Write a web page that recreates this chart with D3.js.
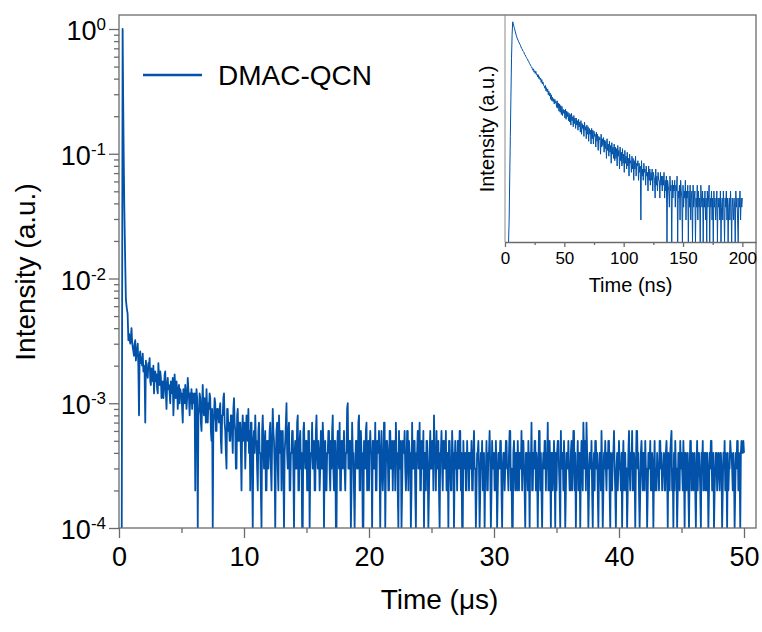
<!DOCTYPE html>
<html>
<head>
<meta charset="utf-8">
<script src="https://cdn.jsdelivr.net/npm/d3@7"></script>
<style>
  body { margin: 0; background: #fff; }
  svg text { font-family: "Liberation Sans", Arial, sans-serif; fill: #000; }
  .axis path, .axis line { stroke: #6b6b6b; stroke-width: 1.3; }
</style>
</head>
<body>
<div id="chart"></div>
<script>
// rise and first fast drop of the main decay (time in us, normalised intensity)
var riseTime = [0.22, 0.29, 0.33, 0.37, 0.42, 0.48, 0.55, 0.62, 0.69, 0.75]
var riseIntensity = [0.0001, 1.0, 0.3, 0.11, 0.04, 0.017, 0.0068, 0.0058, 0.0052, 0.0032]

// delayed tail: photon counts (1 count = 1e-4), one every 0.05 us from 0.8 us
var tailStart = 0.8, tailStep = 0.05
var tailCounts = [
  36, 33, 30, 34,
  40, 31, 28, 26, 24, 30, 32, 22, 25, 27, 30, 19, 8, 24, 26, 21, 23, 20, 25, 18,
  20, 17, 7, 22, 19, 18, 16, 21, 20, 23, 15, 14, 19, 17, 15, 20, 12, 16, 18, 15,
  17, 13, 12, 21, 16, 14, 18, 16, 11, 12, 15, 11, 13, 17, 18, 12, 9, 14, 16, 13,
  14, 12, 10, 15, 13, 12, 16, 8, 11, 17, 13, 11, 15, 13, 9, 12, 14, 10, 13, 12,
  12, 9, 7, 13, 11, 10, 14, 12, 9, 11, 16, 13, 11, 8, 12, 10, 13, 9, 12, 11,
  10, 12, 2, 9, 13, 11, 1, 8, 9, 12, 11, 7, 6, 10, 14, 9, 8, 11, 10, 7,
  13, 9, 7, 10, 9, 12, 11, 6, 5, 9, 1, 7, 8, 11, 10, 6, 6, 9, 9, 8,
  7, 9, 10, 5, 4, 8, 8, 11, 12, 7, 6, 4, 3, 9, 9, 6, 7, 5, 5, 8,
  8, 6, 4, 9, 11, 7, 6, 3, 3, 8, 9, 5, 5, 7, 7, 4, 2, 6, 8, 5,
  6, 7, 3, 5, 8, 6, 5, 9, 4, 6, 2, 7, 7, 3, 1, 5, 6, 4, 8, 5,
  5, 3, 2, 6, 7, 4, 4, 2, 1, 6, 8, 5, 3, 4, 6, 2, 2, 5, 5, 3,
  4, 6, 7, 3, 2, 5, 9, 6, 5, 3, 1, 4, 6, 7, 3, 2, 8, 5, 4, 6,
  2, 5, 6, 3, 1, 4, 5, 7, 10, 4, 3, 6, 7, 2, 2, 4, 4, 6, 6, 3,
  1, 4, 5, 3, 3, 7, 8, 2, 2, 5, 6, 3, 4, 1, 1, 6, 7, 4, 3, 5,
  5, 2, 2, 6, 6, 1, 3, 4, 4, 7, 3, 3, 5, 2, 2, 6, 8, 4, 3, 5,
  4, 2, 3, 6, 3, 3, 7, 5, 1, 4, 5, 2, 2, 4, 4, 6, 6, 3, 2, 5,
  3, 6, 8, 3, 2, 5, 5, 1, 1, 4, 6, 4, 3, 7, 2, 2, 5, 5, 3, 4,
  6, 3, 2, 4, 4, 9, 10, 3, 3, 5, 5, 1, 2, 7, 4, 4, 2, 1, 3, 5,
  5, 3, 3, 7, 8, 2, 2, 6, 4, 4, 1, 1, 5, 3, 3, 6, 7, 2, 4, 5,
  2, 4, 6, 4, 4, 1, 5, 5, 3, 3, 7, 2, 2, 5, 4, 4, 6, 3, 1, 4,
  6, 3, 2, 3, 7, 7, 1, 3, 5, 5, 4, 2, 2, 6, 6, 3, 3, 5, 2, 4,
  5, 5, 2, 7, 4, 4, 2, 1, 6, 3, 3, 5, 1, 2, 5, 4, 4, 6, 3, 2,
  3, 6, 6, 2, 5, 4, 4, 1, 2, 7, 3, 3, 5, 5, 2, 1, 4, 4, 6, 3,
  4, 7, 2, 2, 5, 3, 3, 6, 1, 4, 4, 2, 5, 5, 3, 1, 2, 4, 6, 3,
  3, 5, 5, 2, 8, 4, 4, 2, 6, 3, 3, 5, 2, 1, 4, 4, 6, 3, 2, 5,
  5, 3, 3, 6, 2, 2, 4, 1, 5, 5, 3, 2, 2, 6, 4, 4, 1, 3, 5, 3,
  4, 2, 5, 5, 3, 6, 6, 2, 4, 1, 1, 5, 3, 3, 4, 2, 2, 5, 3, 4,
  2, 4, 4, 3, 5, 2, 2, 4, 6, 3, 3, 1, 2, 4, 4, 5, 3, 1, 2, 4,
  3, 5, 2, 2, 4, 1, 3, 3, 5, 2, 2, 4, 4, 6, 3, 1, 2, 5, 3, 3,
  4, 2, 2, 5, 3, 1, 2, 4, 4, 3, 5, 5, 2, 1, 3, 4, 4, 2, 3, 5,
  5, 3, 3, 2, 4, 6, 6, 2, 3, 1, 1, 4, 5, 3, 2, 4, 4, 2, 5, 3,
  2, 4, 4, 3, 6, 2, 5, 5, 3, 2, 1, 4, 4, 3, 2, 5, 3, 1, 4, 3,
  7, 2, 2, 4, 3, 5, 5, 2, 4, 3, 1, 3, 6, 6, 2, 4, 2, 1, 3, 4,
  3, 5, 5, 2, 4, 3, 7, 2, 2, 5, 3, 1, 4, 4, 2, 3, 5, 3, 1, 4,
  2, 4, 5, 5, 3, 2, 1, 6, 3, 4, 4, 2, 5, 3, 1, 2, 4, 4, 3, 5,
  3, 2, 2, 4, 5, 2, 3, 6, 6, 2, 4, 1, 3, 3, 5, 2, 4, 4, 1, 3,
  5, 3, 2, 7, 4, 3, 5, 2, 7, 4, 3, 1, 2, 4, 4, 3, 5, 2, 1, 3,
  4, 2, 5, 5, 3, 4, 2, 1, 3, 4, 4, 2, 6, 3, 1, 2, 4, 3, 5, 3,
  2, 4, 3, 5, 5, 2, 1, 4, 3, 2, 4, 4, 6, 3, 2, 1, 3, 4, 2, 3,
  5, 3, 3, 2, 4, 1, 3, 5, 2, 4, 4, 2, 3, 1, 2, 4, 6, 3, 2, 4,
  3, 6, 2, 2, 4, 3, 1, 3, 6, 6, 3, 4, 2, 1, 2, 4, 5, 3, 2, 4,
  4, 2, 5, 3, 3, 1, 2, 4, 4, 3, 5, 2, 2, 4, 3, 1, 3, 5, 2, 3,
  2, 4, 3, 3, 2, 5, 5, 3, 4, 2, 3, 3, 4, 2, 2, 4, 5, 3, 1, 4,
  3, 2, 4, 5, 6, 2, 3, 1, 4, 2, 5, 3, 3, 1, 2, 4, 4, 2, 5, 3,
  4, 3, 2, 5, 3, 1, 4, 4, 2, 3, 4, 2, 1, 3, 5, 5, 2, 3, 4, 2,
  3, 4, 2, 1, 3, 5, 2, 4, 4, 3, 2, 1, 4, 3, 5, 2, 3, 4, 2, 4,
  2, 4, 3, 1, 2, 4, 3, 5, 5, 2, 3, 4, 1, 2, 3, 4, 4, 2, 3, 4,
  3, 2, 4, 4, 3, 1, 2, 4, 3, 5, 2, 4, 3, 1, 4, 2, 3, 3, 5, 4,
  4, 3, 2, 4, 3, 1, 2, 4, 3, 5, 5, 2, 4, 3, 1, 4, 5, 4, 4, 5,
  4
]

// inset: prompt decay, counts every 0.5 ns from 3 ns
var insetStart = 3, insetStep = 0.5
var insetCounts = [
  1, 2, 8, 28, 100, 330, 700, 1040, 972, 900, 845, 778, 730, 676, 640, 605, 585, 556, 532, 515,
  496, 470, 450, 440, 415, 408, 395, 372, 366, 348, 340, 326, 320, 302, 298, 282, 276, 264, 254, 250,
  238, 226, 236, 212, 222, 204, 218, 196, 200, 182, 196, 174, 184, 168, 176, 154, 168, 146, 156, 140,
  138, 128, 140, 118, 130, 114, 124, 104, 116, 100, 110, 90, 104, 86, 96, 84, 92, 78, 90, 80,
  84, 70, 86, 68, 80, 62, 78, 60, 74, 56, 72, 54, 66, 58, 64, 50, 66, 48, 62, 52,
  60, 46, 58, 44, 56, 40, 58, 46, 52, 38, 54, 42, 50, 36, 50, 40, 46, 34, 48, 38,
  44, 32, 46, 30, 42, 36, 40, 28, 44, 34, 38, 26, 40, 30, 38, 24, 36, 30, 34, 22,
  36, 26, 34, 22, 33, 28, 30, 20, 32, 24, 30, 18, 28, 25, 27, 16, 30, 20, 26, 21,
  27, 17, 25, 19, 24, 14, 26, 18, 22, 15, 24, 17, 21, 12, 23, 16, 20, 14, 22, 13,
  20, 14, 19, 11, 21, 15, 18, 10, 20, 13, 17, 11, 19, 12, 16, 9, 18, 12, 15, 10,
  17, 11, 14, 8, 16, 12, 13, 9, 15, 10, 14, 7, 13, 10, 15, 8, 12, 11, 13, 7,
  12, 9, 11, 2, 13, 8, 10, 7, 12, 9, 10, 6, 11, 8, 9, 5, 11, 7, 10, 6,
  9, 7, 10, 5, 9, 8, 7, 4, 10, 6, 8, 5, 9, 7, 7, 4, 9, 6, 8, 5,
  8, 6, 9, 4, 7, 5, 8, 1, 7, 6, 5, 3, 8, 5, 6, 1, 7, 4, 6, 5,
  7, 3, 6, 5, 8, 1, 5, 4, 6, 2, 7, 5, 4, 1, 6, 3, 5, 4, 7, 2,
  5, 4, 6, 1, 5, 3, 6, 2, 4, 5, 1, 6, 3, 4, 5, 1, 4, 3, 6, 2,
  5, 3, 4, 1, 6, 4, 3, 5, 1, 4, 3, 5, 2, 4, 1, 5, 3, 4, 6, 1,
  4, 3, 5, 2, 4, 1, 5, 3, 4, 2, 3, 5, 1, 4, 3, 4, 2, 5, 1, 3,
  4, 2, 5, 3, 1, 4, 3, 5, 2, 4, 1, 3, 4, 2, 5, 3, 1, 4, 3, 2,
  4, 3, 1, 5, 3, 4, 2, 1, 4, 3, 5, 2, 4, 3, 4
]

var mainXTicks = [0, 10, 20, 30, 40, 50]
var mainXMinor = [5, 15, 25, 35, 45]
var mainYTicks = [1e-4, 1e-3, 1e-2, 1e-1, 1]
var insetXTicks = [0, 50, 100, 150, 200]
var insetXMinor = [25, 75, 125, 175]
var seriesName = 'DMAC-QCN'

var lineColor = '#0152a8'
var svg_width = 762, svg_height = 632
var plot = { left: 119, right: 756, top: 15, bottom: 528 }
var inset = { left: 505, right: 756, top: 15, bottom: 242 }

var svg = d3.select('#chart').append('svg')
  .attr('width', svg_width)
  .attr('height', svg_height)

var mainData = riseTime.map((t, i) => ({ t: t, v: riseIntensity[i] }))
tailCounts.forEach((c, i) => mainData.push({ t: tailStart + i * tailStep, v: c * 1e-4 }))

var insetData = insetCounts.map((c, i) => ({ t: insetStart + i * insetStep, v: c }))

var xScale = d3.scaleLinear().domain([0, 50.96]).range([plot.left, plot.right])
var yScale = d3.scaleLog().domain([1e-4, 1.295]).range([plot.bottom, plot.top]).clamp(true)

// minor y ticks 2..9 per decade
var yMinor = []
mainYTicks.slice(0, -1).forEach(d => { for (var k = 2; k <= 9; k++) yMinor.push(d * k) })

svg.append('defs').append('clipPath').attr('id', 'clipMain')
  .append('rect')
  .attr('x', plot.left).attr('y', plot.top)
  .attr('width', plot.right - plot.left).attr('height', plot.bottom - plot.top)

// data
svg.append('path')
  .datum(mainData)
  .attr('clip-path', 'url(#clipMain)')
  .attr('fill', 'none')
  .attr('stroke', lineColor)
  .attr('stroke-width', 1.8)
  .attr('stroke-linejoin', 'round')
  .attr('d', d3.line().x(d => xScale(d.t)).y(d => yScale(d.v)))

// frame
svg.append('rect')
  .attr('x', plot.left).attr('y', plot.top)
  .attr('width', plot.right - plot.left).attr('height', plot.bottom - plot.top)
  .attr('fill', 'none').attr('stroke', '#6b6b6b').attr('stroke-width', 1.3)

// x axis
svg.append('g').classed('axis', true)
  .attr('transform', `translate(0, ${plot.bottom})`)
  .call(d3.axisBottom(xScale).tickValues(mainXMinor).tickSize(5).tickSizeOuter(0).tickFormat(''))
  .call(g => g.select('.domain').remove())

svg.append('g').classed('axis', true)
  .attr('transform', `translate(0, ${plot.bottom})`)
  .call(d3.axisBottom(xScale).tickValues(mainXTicks).tickSize(10).tickSizeOuter(0).tickPadding(9))
  .call(g => g.select('.domain').remove())
  .call(g => g.selectAll('text').attr('font-size', 27).attr('dy', '0.71em'))

// y axis
svg.append('g').classed('axis', true)
  .attr('transform', `translate(${plot.left}, 0)`)
  .call(d3.axisLeft(yScale).tickValues(yMinor).tickSize(5).tickSizeOuter(0).tickFormat(''))
  .call(g => g.select('.domain').remove())

svg.append('g').classed('axis', true)
  .attr('transform', `translate(${plot.left}, 0)`)
  .call(d3.axisLeft(yScale).tickValues(mainYTicks).tickSize(10).tickSizeOuter(0).tickFormat(''))
  .call(g => g.select('.domain').remove())

mainYTicks.forEach(d => {
  var txt = svg.append('text')
    .attr('x', 106)
    .attr('y', yScale(d) + 11)
    .attr('text-anchor', 'end')
    .attr('font-size', 27)
  txt.append('tspan').text('10')
  txt.append('tspan').attr('dy', -10).attr('font-size', 17).text(Math.round(Math.log10(d)))
})

// axis titles
svg.append('text')
  .attr('x', (plot.left + plot.right) / 2 + 2)
  .attr('y', 609)
  .attr('text-anchor', 'middle')
  .attr('font-size', 28)
  .text('Time (\u03bcs)')

svg.append('text')
  .attr('transform', 'translate(35, 272) rotate(-90)')
  .attr('text-anchor', 'middle')
  .attr('font-size', 28)
  .text('Intensity (a.u.)')

// legend
svg.append('line')
  .attr('x1', 143).attr('x2', 202).attr('y1', 75).attr('y2', 75)
  .attr('stroke', lineColor).attr('stroke-width', 2.5)
svg.append('text')
  .attr('x', 218).attr('y', 85)
  .attr('font-size', 28)
  .text(seriesName)

// inset
var ixScale = d3.scaleLinear().domain([0, 211.5]).range([inset.left, inset.right])
var iyScale = d3.scaleLog().domain([1, 1290]).range([inset.bottom, inset.top]).clamp(true)

svg.append('path')
  .datum(insetData)
  .attr('fill', 'none')
  .attr('stroke', lineColor)
  .attr('stroke-width', 1)
  .attr('stroke-linejoin', 'round')
  .attr('d', d3.line().x(d => ixScale(d.t)).y(d => iyScale(d.v)))

svg.append('line')
  .attr('x1', inset.left).attr('x2', inset.left)
  .attr('y1', inset.top).attr('y2', inset.bottom)
  .attr('stroke', '#8a8a8a').attr('stroke-width', 1)

svg.append('g').classed('axis', true)
  .attr('transform', `translate(0, ${inset.bottom})`)
  .call(d3.axisBottom(ixScale).tickValues(insetXMinor).tickSize(3).tickSizeOuter(0).tickFormat(''))
  .call(g => g.select('.domain').remove())
  .call(g => g.selectAll('line').attr('stroke', '#8a8a8a').attr('stroke-width', 1))

svg.append('g').classed('axis', true)
  .attr('transform', `translate(0, ${inset.bottom})`)
  .call(d3.axisBottom(ixScale).tickValues(insetXTicks).tickSize(5).tickSizeOuter(0).tickPadding(5))
  .call(g => g.select('.domain').attr('stroke', '#8a8a8a').attr('stroke-width', 1))
  .call(g => g.selectAll('line').attr('stroke', '#8a8a8a').attr('stroke-width', 1))
  .call(g => g.selectAll('text').attr('font-size', 17).attr('dy', '0.71em'))

svg.append('text')
  .attr('x', (inset.left + inset.right) / 2)
  .attr('y', 292)
  .attr('text-anchor', 'middle')
  .attr('font-size', 20)
  .text('Time (ns)')

svg.append('text')
  .attr('transform', 'translate(494, 129) rotate(-90)')
  .attr('text-anchor', 'middle')
  .attr('font-size', 20)
  .text('Intensity (a.u.)')
</script>
</body>
</html>
